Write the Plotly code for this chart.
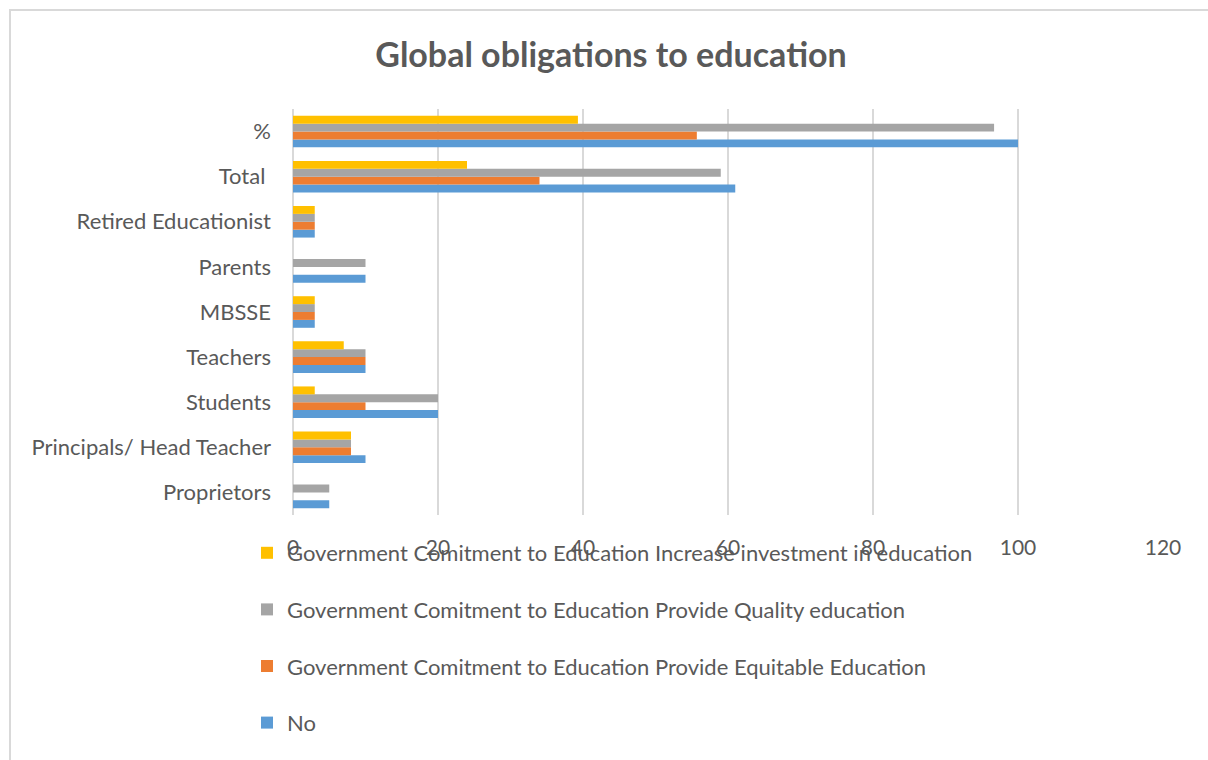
import plotly.graph_objects as go

# Respondent groups, listed bottom-to-top as they appear on the axis
categories = ["Proprietors", "Principals/ Head Teacher", "Students", "Teachers",
              "MBSSE", "Parents", "Retired Educationist", "Total ", "%"]

no_vals = [5, 10, 20, 10, 3, 10, 3, 61, 100]
equitable_vals = [0, 8, 10, 10, 3, 0, 3, 34, 55.7]
quality_vals = [5, 8, 20, 10, 3, 10, 3, 59, 96.7]
investment_vals = [0, 8, 3, 7, 3, 0, 3, 24, 39.3]

series_names = [
    "No",
    "Government Comitment to Education Provide Equitable Education",
    "Government Comitment to Education Provide Quality education",
    "Government Comitment to Education Increase investment in education",
]
series_values = [no_vals, equitable_vals, quality_vals, investment_vals]
series_colors = ["#5B9BD5", "#ED7D31", "#A5A5A5", "#FFC000"]

x_ticks = [0, 20, 40, 60, 80, 100, 120]

TEXT = "#595959"
GRID = "#D9D9D9"
FONT = "Lato"

fig = go.Figure()
n = len(series_names)
for i, (name, vals, col) in enumerate(zip(series_names, series_values, series_colors)):
    fig.add_trace(go.Bar(
        y=categories, x=vals, name=name, orientation="h",
        marker=dict(color=col, line=dict(width=0)),
        legendgroup=f"g{i}", legendrank=(n - i) * 10,
    ))

# plot area: x 293..1163, y 109..515 in page pixels
L, R, T, B = 293, 45, 109, 245
W, H = 1208, 760
pw, ph = W - L - R, H - T - B

def px_x(p):
    return (p - L) / pw

def px_y(p):
    return (H - B - p) / ph

fig.update_layout(
    width=W, height=H,
    margin=dict(l=L, r=R, t=T, b=B),
    paper_bgcolor="white", plot_bgcolor="white",
    barmode="group", bargap=0.30, bargroupgap=0,
    font=dict(family=FONT, color=TEXT, size=22),
    title=dict(text="<b>Global obligations to education</b>",
               x=611 / W, y=1 - 55 / H, xanchor="center", yanchor="middle",
               font=dict(family=FONT, size=34, color=TEXT)),
    xaxis=dict(range=[0, 120], tickvals=x_ticks, showgrid=True, gridcolor=GRID,
               gridwidth=2, zeroline=True, zerolinecolor=GRID, zerolinewidth=2,
               showline=False, ticks="", ticklabelstandoff=18,
               tickfont=dict(size=21, color=TEXT), fixedrange=True),
    yaxis=dict(showgrid=False, zeroline=False, showline=False, ticks="",
               ticklabelstandoff=21, tickfont=dict(size=22, color=TEXT),
               categoryorder="array", categoryarray=categories),
    legend=dict(x=px_x(247), y=px_y(532), xanchor="left", yanchor="top",
                traceorder="grouped", tracegroupgap=25,
                bgcolor="rgba(0,0,0,0)", font=dict(size=22, color=TEXT)),
    shapes=[dict(type="rect", xref="paper", yref="paper",
                 x0=px_x(10), x1=px_x(1215), y0=px_y(770), y1=px_y(10),
                 line=dict(color=GRID, width=2), fillcolor="rgba(0,0,0,0)",
                 layer="below")],
    showlegend=True,
)

fig.write_html("out.html")
